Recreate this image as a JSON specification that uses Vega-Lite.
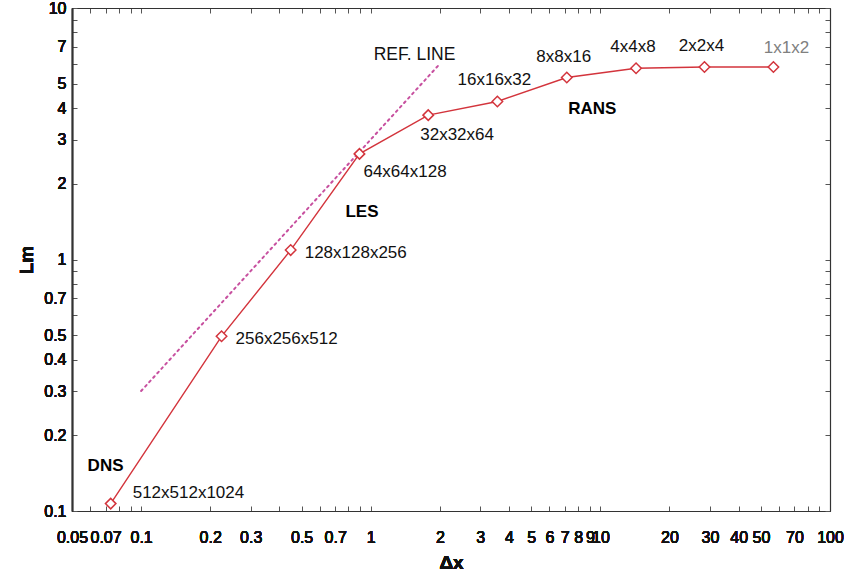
{
  "$schema": "https://vega.github.io/schema/vega-lite/v6.json",
  "width": 758,
  "height": 503,
  "autosize": "none",
  "padding": {"left": 72, "top": 8, "right": 14, "bottom": 61},
  "background": "white",
  "config": {
    "view": {"stroke": null},
    "font": "Liberation Sans",
    "axis": {
      "grid": false,
      "domainColor": "#333333",
      "domainWidth": 1.2,
      "tickColor": "#555555",
      "tickSize": -5,
      "labelColor": "#111111",
      "labelFont": "Liberation Sans",
      "labelOverlap": false,
      "labelFlush": false,
      "titleFont": "Liberation Sans",
      "titleColor": "#111111"
    }
  },
  "datasets": {
    "grids": [
      {"grid": "512x512x1024", "x": 0.0737, "y": 0.107},
      {"grid": "256x256x512", "x": 0.224, "y": 0.495},
      {"grid": "128x128x256", "x": 0.448, "y": 1.09},
      {"grid": "64x64x128", "x": 0.893, "y": 2.63},
      {"grid": "32x32x64", "x": 1.78, "y": 3.75},
      {"grid": "16x16x32", "x": 3.56, "y": 4.25},
      {"grid": "8x8x16", "x": 7.14, "y": 5.29},
      {"grid": "4x4x8", "x": 14.3, "y": 5.76},
      {"grid": "2x2x4", "x": 28.4, "y": 5.83},
      {"grid": "1x1x2", "x": 56.7, "y": 5.83}
    ],
    "ref": [
      {"x": 0.1, "y": 0.3},
      {"x": 2, "y": 6}
    ],
    "regions": [
      {"text": "DNS", "x": 0.070, "y": 0.151},
      {"text": "LES", "x": 0.916, "y": 1.55},
      {"text": "RANS", "x": 9.22, "y": 3.96}
    ],
    "refnote": [
      {"text": "REF. LINE", "x": 1.551, "y": 6.51}
    ]
  },
  "encoding": {
    "x": {
      "field": "x",
      "type": "quantitative",
      "scale": {"type": "log", "domain": [0.05, 100], "nice": false},
      "axis": {
        "orient": "bottom",
        "title": "Δx",
        "titleFontSize": 19,
        "titleFontWeight": "bold",
        "titlePadding": 8,
        "labelFontSize": 16,
        "labelPadding": 18,
        "ticks": false,
        "values": [0.05, 0.07, 0.1, 0.2, 0.3, 0.5, 0.7, 1, 2, 3, 4, 5, 6, 7, 8, 9, 10, 20, 30, 40, 50, 70, 100],
        "format": "~g"
      }
    },
    "y": {
      "field": "y",
      "type": "quantitative",
      "scale": {"type": "log", "domain": [0.1, 10], "nice": false},
      "axis": {
        "orient": "left",
        "title": "Lm",
        "titleFontSize": 19,
        "titleFontWeight": "bold",
        "titlePadding": 7,
        "labelFontSize": 16,
        "labelPadding": 6,
        "ticks": false,
        "values": [0.1, 0.2, 0.3, 0.4, 0.5, 0.7, 1, 2, 3, 4, 5, 7, 10],
        "format": "~g"
      }
    }
  },
  "layer": [
    {
      "data": {"name": "ref"},
      "mark": {"type": "line", "color": "#c7509f", "strokeWidth": 2, "strokeDash": [2, 4], "strokeCap": "round"},
      "encoding": {
        "x": {
          "field": "x",
          "type": "quantitative",
          "scale": {"type": "log", "domain": [0.05, 100], "nice": false},
          "axis": {
            "orient": "top",
            "title": null,
            "labels": false,
            "values": [0.05, 0.06, 0.07, 0.08, 0.09, 0.1, 0.2, 0.3, 0.4, 0.5, 0.6, 0.7, 0.8, 0.9, 1, 2, 3, 4, 5, 6, 7, 8, 9, 10, 20, 30, 40, 50, 60, 70, 80, 90, 100]
          }
        },
        "y": {
          "field": "y",
          "type": "quantitative",
          "scale": {"type": "log", "domain": [0.1, 10], "nice": false},
          "axis": {
            "orient": "right",
            "title": null,
            "labels": false,
            "values": [0.1, 0.2, 0.3, 0.4, 0.5, 0.6, 0.7, 0.8, 0.9, 1, 2, 3, 4, 5, 6, 7, 8, 9, 10]
          }
        }
      }
    },
    {
      "data": {"name": "grids"},
      "mark": {"type": "line", "color": "#d3343c", "strokeWidth": 1.4},
      "encoding": {
        "x": {
          "field": "x",
          "type": "quantitative",
          "scale": {"type": "log", "domain": [0.05, 100], "nice": false},
          "axis": {
            "orient": "bottom",
            "title": null,
            "labels": false,
            "domain": false,
            "values": [0.05, 0.06, 0.07, 0.08, 0.09, 0.1, 0.2, 0.3, 0.4, 0.5, 0.6, 0.7, 0.8, 0.9, 1, 2, 3, 4, 5, 6, 7, 8, 9, 10, 20, 30, 40, 50, 60, 70, 80, 90, 100]
          }
        },
        "y": {
          "field": "y",
          "type": "quantitative",
          "scale": {"type": "log", "domain": [0.1, 10], "nice": false},
          "axis": {
            "orient": "left",
            "title": null,
            "labels": false,
            "domain": false,
            "values": [0.1, 0.2, 0.3, 0.4, 0.5, 0.6, 0.7, 0.8, 0.9, 1, 2, 3, 4, 5, 6, 7, 8, 9, 10]
          }
        }
      }
    },
    {
      "data": {"name": "grids"},
      "mark": {"type": "point", "shape": "diamond", "size": 110, "filled": false, "fill": "white", "fillOpacity": 1, "stroke": "#d3343c", "strokeWidth": 1.5, "opacity": 1}
    },
    {
      "data": {"name": "grids"},
      "transform": [{"filter": "datum.grid == '512x512x1024'"}],
      "mark": {"type": "text", "align": "left", "baseline": "middle", "dx": 22, "dy": -11, "fontSize": 17, "color": "#111111"},
      "encoding": {"text": {"field": "grid"}}
    },
    {
      "data": {"name": "grids"},
      "transform": [{"filter": "datum.grid == '256x256x512' || datum.grid == '128x128x256'"}],
      "mark": {"type": "text", "align": "left", "baseline": "middle", "dx": 14, "dy": 3, "fontSize": 17, "color": "#111111"},
      "encoding": {"text": {"field": "grid"}}
    },
    {
      "data": {"name": "grids"},
      "transform": [{"filter": "datum.grid == '64x64x128'"}],
      "mark": {"type": "text", "align": "left", "baseline": "middle", "dx": 4, "dy": 18, "fontSize": 17, "color": "#111111"},
      "encoding": {"text": {"field": "grid"}}
    },
    {
      "data": {"name": "grids"},
      "transform": [{"filter": "datum.grid == '32x32x64'"}],
      "mark": {"type": "text", "align": "left", "baseline": "middle", "dx": -8, "dy": 20, "fontSize": 17, "color": "#111111"},
      "encoding": {"text": {"field": "grid"}}
    },
    {
      "data": {"name": "grids"},
      "transform": [{"filter": "datum.grid == '16x16x32' || datum.grid == '8x8x16' || datum.grid == '4x4x8' || datum.grid == '2x2x4'"}],
      "mark": {"type": "text", "align": "center", "baseline": "middle", "dx": -3, "dy": -21, "fontSize": 17, "color": "#111111"},
      "encoding": {"text": {"field": "grid"}}
    },
    {
      "data": {"name": "grids"},
      "transform": [{"filter": "datum.grid == '1x1x2'"}],
      "mark": {"type": "text", "align": "center", "baseline": "middle", "dx": 13, "dy": -19, "fontSize": 17, "color": "#808080"},
      "encoding": {"text": {"field": "grid"}}
    },
    {
      "data": {"name": "regions"},
      "mark": {"type": "text", "align": "center", "baseline": "middle", "fontSize": 17, "fontWeight": "bold", "color": "#000000"},
      "encoding": {"text": {"field": "text"}}
    },
    {
      "data": {"name": "refnote"},
      "mark": {"type": "text", "align": "center", "baseline": "middle", "fontSize": 17.5, "color": "#111111"},
      "encoding": {"text": {"field": "text"}}
    }
  ]
}
